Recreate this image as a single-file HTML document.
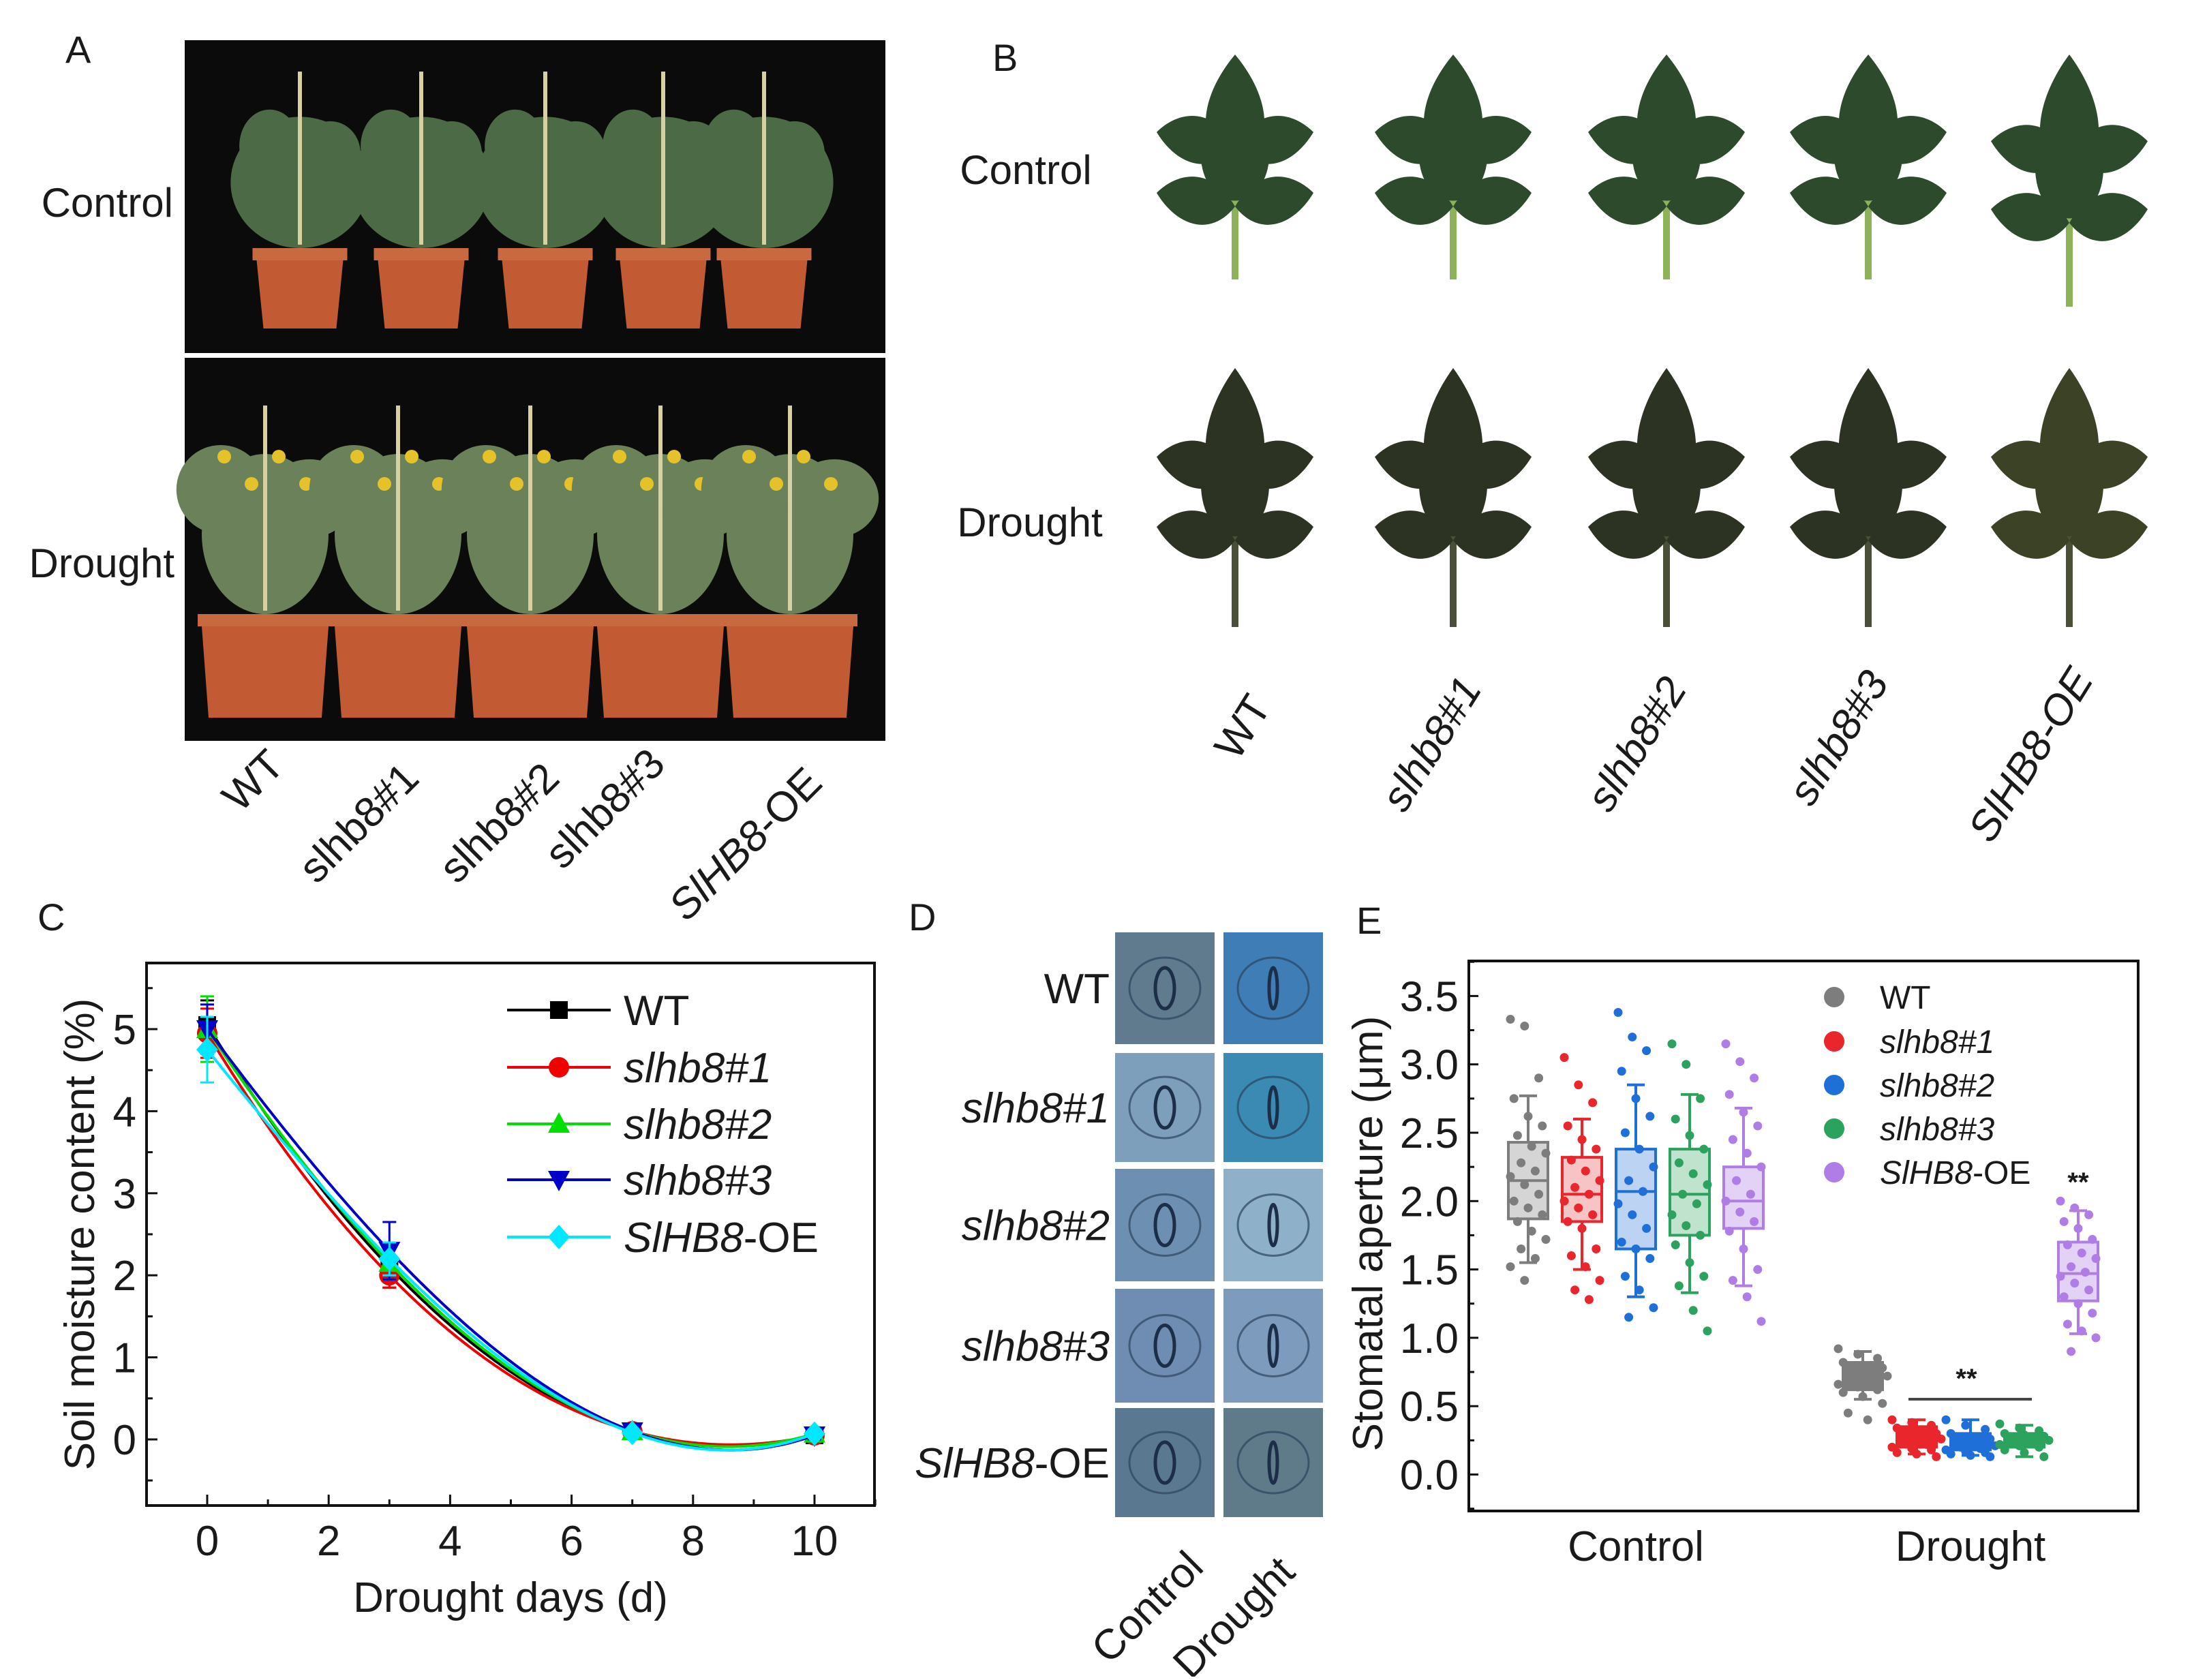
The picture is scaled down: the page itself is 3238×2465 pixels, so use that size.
<!DOCTYPE html>
<html><head><meta charset="utf-8"><style>
html,body{margin:0;padding:0;background:#fff;}
body{width:3238px;height:2460px;overflow:hidden;font-family:"Liberation Sans",sans-serif;}
svg text{font-family:"Liberation Sans",sans-serif;}
</style></head><body>
<svg id="fig" width="3238" height="2460" viewBox="0 0 3238 2460" xmlns="http://www.w3.org/2000/svg">
<g id="panelA"></g>
<g id="panelB"></g>
<g id="panelC"></g>
<g id="panelD"></g>
<g id="panelE"></g>
</svg>
<script>
// ---------- Panel C data ----------
const cDays = [0, 3, 7, 10];
const cSeriesNames = ["WT", "slhb8#1", "slhb8#2", "slhb8#3", "SlHB8-OE"];
const cWT = [5.05, 2.10, 0.10, 0.05];
const cL1 = [4.95, 2.00, 0.10, 0.05];
const cL2 = [5.00, 2.15, 0.10, 0.07];
const cL3 = [5.00, 2.30, 0.10, 0.05];
const cOE = [4.75, 2.20, 0.08, 0.07];
const cErrWT = [0.30, 0.25, 0.05, 0.05];
const cErrL1 = [0.30, 0.15, 0.05, 0.05];
const cErrL2 = [0.40, 0.20, 0.05, 0.05];
const cErrL3 = [0.30, 0.35, 0.05, 0.05];
const cErrOE = [0.40, 0.20, 0.05, 0.05];
const cXTicks = [0, 2, 4, 6, 8, 10];
const cYTicks = [0, 1, 2, 3, 4, 5];

// ---------- Panel E data ----------
const eGroups = ["Control", "Drought"];
const eGenotypes = ["WT", "slhb8#1", "slhb8#2", "slhb8#3", "SlHB8-OE"];
const eCtrlStats = [[1.55,1.87,2.15,2.43,2.77],[1.50,1.85,2.05,2.32,2.60],[1.30,1.65,2.07,2.38,2.85],[1.33,1.75,2.05,2.38,2.78],[1.38,1.80,2.00,2.25,2.68]];
const eDrStats = [[0.55,0.62,0.72,0.82,0.90],[0.15,0.20,0.27,0.35,0.40],[0.14,0.18,0.22,0.30,0.40],[0.13,0.20,0.25,0.30,0.36],[1.03,1.27,1.47,1.70,1.93]];
const eCtrlPts = [
 [3.33,3.28,2.90,2.75,2.62,2.55,2.48,2.40,2.35,2.28,2.22,2.18,2.12,2.05,2.00,1.95,1.90,1.85,1.78,1.72,1.65,1.58,1.52,1.42],
 [3.05,2.85,2.72,2.55,2.45,2.38,2.30,2.22,2.15,2.10,2.05,2.00,1.95,1.90,1.85,1.80,1.65,1.60,1.52,1.42,1.35,1.28],
 [3.38,3.20,3.10,2.95,2.75,2.62,2.50,2.38,2.25,2.15,2.07,1.98,1.90,1.80,1.70,1.65,1.58,1.45,1.35,1.22,1.15],
 [3.15,3.00,2.75,2.60,2.48,2.38,2.28,2.20,2.12,2.05,1.98,1.90,1.82,1.75,1.68,1.55,1.45,1.38,1.20,1.05],
 [3.15,3.02,2.90,2.78,2.65,2.55,2.45,2.35,2.25,2.15,2.05,2.00,1.92,1.85,1.78,1.65,1.50,1.42,1.30,1.12]
];
const eDrPts = [
 [0.92,0.88,0.85,0.82,0.80,0.78,0.76,0.74,0.72,0.70,0.68,0.66,0.64,0.62,0.60,0.57,0.52,0.45,0.40],
 [0.40,0.38,0.36,0.34,0.32,0.30,0.28,0.27,0.26,0.24,0.22,0.20,0.19,0.18,0.16,0.15,0.13],
 [0.40,0.36,0.33,0.30,0.28,0.26,0.24,0.22,0.21,0.20,0.19,0.18,0.17,0.16,0.15,0.14,0.13],
 [0.37,0.34,0.32,0.30,0.29,0.28,0.27,0.26,0.25,0.24,0.23,0.22,0.21,0.20,0.18,0.16,0.13],
 [2.00,1.95,1.90,1.85,1.80,1.72,1.68,1.62,1.58,1.52,1.48,1.45,1.40,1.35,1.30,1.25,1.18,1.10,1.05,1.00,0.90]
];
const eYTicks = [0.0,0.5,1.0,1.5,2.0,2.5,3.0,3.5];

const NS = "http://www.w3.org/2000/svg";
function mk(parent, tag, attrs, text){
  const el = document.createElementNS(NS, tag);
  for (const k in attrs) el.setAttribute(k, attrs[k]);
  if (text !== undefined) el.textContent = text;
  parent.appendChild(el);
  return el;
}
function label(parent, x, y, txt, size, name, extra){
  const t = mk(parent, "text", Object.assign({x:x, y:y, "font-size":size, fill:"#1a1a1a"}, extra||{}), txt);
  
  
  return t;
}
function geneLabel(parent, x, y, name, size, anchor, transform, dataName, allItalic, upright){
  const t = mk(parent, "text", {x:x, y:y, "font-size":size, fill:"#1a1a1a", "text-anchor":anchor});
  if (transform) t.setAttribute("transform", transform);
  
  
  if (name === "WT") { t.textContent = "WT"; }
  else if (name === "SlHB8-OE" && !allItalic) {
    mk(t, "tspan", {"font-style":"italic"}, "SlHB8");
    mk(t, "tspan", {}, "-OE");
  } else { if(!upright) t.setAttribute("font-style","italic"); t.textContent = name; }
  return t;
}

// ================= Panel A =================
(function(){
  const g = document.getElementById("panelA");
  label(g, 96, 92, "A", 56, "panel-a-letter");
  const photos = [
    {y:59, h:459, name:"control-plants-photo", potY:364, potH:118, potW:127, potX:[440,618,800,973,1121], fol:"#4d6a47", folTop:150, flowers:false, fw:0.8},
    {y:525, h:562, name:"drought-plants-photo", potY:901, potH:152, potW:186, potX:[389,584,778,969,1159], fol:"#6a8159", folTop:640, flowers:true, fw:0.5}
  ];
  photos.forEach(p=>{
    const pg = mk(g, "g", {});
    
    
    mk(pg, "rect", {x:271, y:p.y, width:1028, height:p.h, fill:"#0b0b0b"});
    p.potX.forEach((cx,i)=>{
      const hh = p.potY-p.folTop;
      mk(pg, "ellipse", {cx:cx, cy:p.folTop+hh*0.55, rx:p.potW*p.fw, ry:hh*0.45, fill:p.fol});
      mk(pg, "ellipse", {cx:cx-p.potW*0.35, cy:p.folTop+hh*0.3, rx:p.potW*0.35, ry:hh*0.25, fill:p.fol});
      mk(pg, "ellipse", {cx:cx+p.potW*0.35, cy:p.folTop+hh*0.35, rx:p.potW*0.35, ry:hh*0.22, fill:p.fol});
      mk(pg, "rect", {x:cx-3, y:p.folTop-45, width:6, height:hh+40, fill:"#d8d0a0"});
      if (p.flowers){
        for (let k=0;k<4;k++) mk(pg,"circle",{cx:cx-60+k*40, cy:p.folTop+30+(k%2)*40, r:10, fill:"#e6c22a"});
      }
      const w = p.potW, x0 = cx - w/2;
      mk(pg, "rect", {x:x0-6, y:p.potY, width:w+12, height:18, fill:"#c9693f"});
      mk(pg, "path", {d:`M${x0} ${p.potY+18} L${x0+w} ${p.potY+18} L${x0+w-10} ${p.potY+p.potH} L${x0+10} ${p.potY+p.potH} Z`, fill:"#c25a33"});
    });
  });
  label(g, 254, 318, "Control", 60, "control-row-label", {"text-anchor":"end"});
  label(g, 256, 847, "Drought", 60, "drought-row-label", {"text-anchor":"end"});
  const names = ["WT","slhb8#1","slhb8#2","slhb8#3","SlHB8-OE"];
  const cx = [372,527,733,888,1094], cy=[1146,1208,1208,1187,1239];
  names.forEach((n,i)=>{
    geneLabel(g, cx[i], cy[i]+20, n, 62, "middle", `rotate(-45 ${cx[i]} ${cy[i]})`, "genotype-label-a-"+i, false, true);
  });
})();

// ================= Panel B =================
(function(){
  const g = document.getElementById("panelB");
  label(g, 1456, 104, "B", 56, "panel-b-letter");
  label(g, 1505, 270, "Control", 60, "control-row-label-b", {"text-anchor":"middle"});
  label(g, 1511, 787, "Drought", 60, "drought-row-label-b", {"text-anchor":"middle"});
  const lx = [1812,2132,2445,2741,3036];
  function leaf(cx, top, bot, col, stem, nm){
    const lg = mk(g, "g", {});
    
    
    const h = bot-top;
    mk(lg, "line", {x1:cx, y1:top+h*0.3, x2:cx, y2:bot, stroke:stem, "stroke-width":10});
    mk(lg, "path", {d:`M${cx} ${top} C${cx+55} ${top+h*0.2} ${cx+60} ${top+h*0.42} ${cx} ${top+h*0.52} C${cx-60} ${top+h*0.42} ${cx-55} ${top+h*0.2} ${cx} ${top}Z`, fill:col});
    [[0.33,1],[0.33,-1],[0.6,1],[0.6,-1]].forEach(([f,s])=>{
      const y = top+h*f;
      mk(lg, "path", {d:`M${cx} ${y+25} C${cx+s*35} ${y-35} ${cx+s*85} ${y-25} ${cx+s*115} ${y+5} C${cx+s*85} ${y+55} ${cx+s*35} ${y+70} ${cx} ${y+25}Z`, fill:col});
    });
    mk(lg, "ellipse", {cx:cx, cy:top+h*0.45, rx:50, ry:h*0.2, fill:col});
  }
  lx.forEach((x,i)=>{ leaf(x, 80, 410+(i===4?40:0), "#2e4a2c", "#8db25a", "control-leaf-"+i); });
  lx.forEach((x,i)=>{ leaf(x, 540, 920, i===4?"#3b4226":"#2c3322", "#4a5038", "drought-leaf-"+i); });
  const names = ["WT","slhb8#1","slhb8#2","slhb8#3","SlHB8-OE"];
  const cx=[1824,2101,2402,2698,2980], cy=[1067,1092,1092,1083,1108];
  names.forEach((n,i)=>{
    geneLabel(g, cx[i], cy[i]+20, n, 62, "middle", `rotate(-58 ${cx[i]} ${cy[i]})`, "genotype-label-b-"+i, true);
  });
})();

// ================= Panel C =================
(function(){
  const g = document.getElementById("panelC");
  label(g, 55, 1365, "C", 56, "panel-c-letter");
  const L=215, R=1283, T=1413, B=2209;
  const xs = d => 304 + d*89.1;
  const ys = v => 2112 - v*120.4;
  const fr = mk(g, "rect", {x:L, y:T, width:R-L, height:B-T, fill:"none", stroke:"#111", "stroke-width":4});
   
  for (let d=-1; d<=11; d++){
    const major = cXTicks.includes(d);
    mk(g, "line", {x1:xs(d), y1:B, x2:xs(d), y2:B-(major?16:9), stroke:"#111", "stroke-width":3});
  }
  cXTicks.forEach(d=>{ label(g, xs(d), 2282, String(d), 62, "x-tick-label-"+d, {"text-anchor":"middle"}); });
  for (let v=-0.5; v<=5.5; v+=0.5){
    const major = cYTicks.includes(v);
    mk(g, "line", {x1:L, y1:ys(v), x2:L+(major?16:9), y2:ys(v), stroke:"#111", "stroke-width":3});
  }
  cYTicks.forEach(v=>{ label(g, 200, ys(v)+22, String(v), 62, "y-tick-label-"+v, {"text-anchor":"end"}); });
  label(g, 749, 2365, "Drought days (d)", 62, "x-axis-title", {"text-anchor":"middle"});
  label(g, 138, 1811, "Soil moisture content (%)", 62, "y-axis-title", {"text-anchor":"middle", transform:"rotate(-90 138 1811)"});

  const series = [cWT, cL1, cL2, cL3, cOE];
  const errs = [cErrWT, cErrL1, cErrL2, cErrL3, cErrOE];
  const colors = ["#000000","#f00000","#00e000","#0000c8","#00e8ff"];
  const markers = ["square","circle","tri","tridown","diamond"];
  function lagrange(xv, yv, x){
    let s=0;
    for (let i=0;i<xv.length;i++){ let p=yv[i]; for (let j=0;j<xv.length;j++) if(j!==i) p*= (x-xv[j])/(xv[i]-xv[j]); s+=p; }
    return s;
  }
  function marker(parent, type, x, y, col, r){
    let el;
    if (type==="square") el = mk(parent,"rect",{x:x-r,y:y-r,width:2*r,height:2*r,fill:col});
    else if (type==="circle") el = mk(parent,"circle",{cx:x,cy:y,r:r+2,fill:col});
    else if (type==="tri") el = mk(parent,"path",{d:`M${x} ${y-r-4} L${x+r+3} ${y+r} L${x-r-3} ${y+r}Z`,fill:col});
    else if (type==="tridown") el = mk(parent,"path",{d:`M${x} ${y+r+4} L${x+r+3} ${y-r} L${x-r-3} ${y-r}Z`,fill:col});
    else el = mk(parent,"path",{d:`M${x} ${y-r-5} L${x+r+3} ${y} L${x} ${y+r+5} L${x-r-3} ${y}Z`,fill:col});
    return el;
  }
  series.forEach((s,si)=>{
    const sg = mk(g, "g", {});
    
    
    let d="";
    for (let k=0;k<=200;k++){
      const x = cDays[0] + (cDays[cDays.length-1]-cDays[0])*k/200;
      d += (k?"L":"M") + xs(x).toFixed(1) + " " + ys(lagrange(cDays, s, x)).toFixed(1) + " ";
    }
    const line = mk(sg, "path", {d:d, fill:"none", stroke:colors[si], "stroke-width":4});
    
    
    s.forEach((v,i)=>{
      const x = xs(cDays[i]);
      const eb = mk(sg, "path", {d:`M${x} ${ys(v-errs[si][i])} L${x} ${ys(v+errs[si][i])} M${x-10} ${ys(v-errs[si][i])} L${x+10} ${ys(v-errs[si][i])} M${x-10} ${ys(v+errs[si][i])} L${x+10} ${ys(v+errs[si][i])}`, stroke:colors[si], "stroke-width":3, fill:"none"});
      
      
      const m = marker(sg, markers[si], x, ys(v), colors[si], 13);
      
      
    });
  });
  const legY = [1482,1566,1649,1731,1815];
  cSeriesNames.forEach((n,i)=>{
    const lg = mk(g, "g", {});
    
    
    mk(lg, "line", {x1:744, y1:legY[i], x2:896, y2:legY[i], stroke:colors[i], "stroke-width":4});
    marker(lg, markers[i], 820, legY[i], colors[i], 13);
    geneLabel(lg, 915, legY[i]+22, n, 62, "start", null, "legend-label-"+i, false);
  });
})();

// ================= Panel D =================
(function(){
  const g = document.getElementById("panelD");
  label(g, 1333, 1365, "D", 56, "panel-d-letter");
  const rows = [[1368,1532],[1545,1705],[1715,1880],[1891,2058],[2066,2226]];
  const cols = [[1636,1782],[1795,1941]];
  const fills = [["#607b8e","#3f7db6"],["#7e9fbb","#3a8ab4"],["#6d90b2","#8eb0c9"],["#6f8db2","#7c9bbd"],["#5b7891","#5f7b8a"]];
  const names = ["WT","slhb8#1","slhb8#2","slhb8#3","SlHB8-OE"];
  rows.forEach((r,ri)=>{
    cols.forEach((c,ci)=>{
      const cg = mk(g, "g", {});
      
      
      mk(cg, "rect", {x:c[0], y:r[0], width:c[1]-c[0], height:r[1]-r[0], fill:fills[ri][ci]});
      const cx=(c[0]+c[1])/2, cy=(r[0]+r[1])/2;
      mk(cg, "ellipse", {cx:cx, cy:cy, rx:52, ry:45, fill:"none", stroke:"#2c4560", "stroke-width":3, opacity:0.7});
      mk(cg, "ellipse", {cx:cx, cy:cy, rx:ci?6:14, ry:30, fill:"none", stroke:"#1d2e48", "stroke-width":5});
    });
    geneLabel(g, 1628, (rows[ri][0]+rows[ri][1])/2+22, names[ri], 62, "end", null, "genotype-label-d-"+ri, false);
  });
  label(g, 1681, 2380, "Control", 62, "control-column-label", {"text-anchor":"middle", transform:"rotate(-45 1681 2356)"});
  label(g, 1808, 2395, "Drought", 62, "drought-column-label", {"text-anchor":"middle", transform:"rotate(-45 1808 2371)"});
})();

// ================= Panel E =================
(function(){
  const g = document.getElementById("panelE");
  label(g, 1990, 1370, "E", 56, "panel-e-letter");
  const L=2155, R=3137, T=1410, B=2217;
  const ys = v => 2163.5 - v*200.6;
  const groupX = [2400, 2891];
  const step = 79;
  const xs = (gi, k) => groupX[gi] + (k-2)*step;
  const fr = mk(g, "rect", {x:L, y:T, width:R-L, height:B-T, fill:"none", stroke:"#111", "stroke-width":4});
   
  for (let v=-0.25; v<=3.75; v+=0.25){
    const major = Math.abs(v*2-Math.round(v*2))<1e-6;
    mk(g, "line", {x1:L, y1:ys(v), x2:L+(major?14:8), y2:ys(v), stroke:"#111", "stroke-width":3});
  }
  eYTicks.forEach(v=>{ label(g, 2140, ys(v)+22, v.toFixed(1), 62, "y-tick-label-e-"+v, {"text-anchor":"end"}); });
  eGroups.forEach((n,i)=>{ label(g, groupX[i], 2290, n, 62, "x-category-"+n.toLowerCase(), {"text-anchor":"middle"}); });
  label(g, 2028, 1810, "Stomatal aperture (μm)", 62, "y-axis-title-e", {"text-anchor":"middle", transform:"rotate(-90 2028 1810)"});
  const cols = ["#7d7d7d","#e8262b","#1f6fd8","#2ca25f","#b07de6"];
  const fillsL = ["#d5d5d5","#f6c4c4","#bcd3f3","#bfe3cc","#e3d1f6"];
  function drawGroup(gi, stats, pts){
    stats.forEach((st,k)=>{
      const bg = mk(g, "g", {});
      
      
      const x = xs(gi,k), w = 58;
      const dense = gi===1 && k<4;
      mk(bg, "line", {x1:x, y1:ys(st[0]), x2:x, y2:ys(st[4]), stroke:cols[k], "stroke-width":4});
      mk(bg, "line", {x1:x-13, y1:ys(st[0]), x2:x+13, y2:ys(st[0]), stroke:cols[k], "stroke-width":4});
      mk(bg, "line", {x1:x-13, y1:ys(st[4]), x2:x+13, y2:ys(st[4]), stroke:cols[k], "stroke-width":4});
      mk(bg, "rect", {x:x-w/2, y:ys(st[3]), width:w, height:ys(st[1])-ys(st[3]), fill:dense?cols[k]:fillsL[k], stroke:cols[k], "stroke-width":4});
      mk(bg, "line", {x1:x-w/2, y1:ys(st[2]), x2:x+w/2, y2:ys(st[2]), stroke:cols[k], "stroke-width":4});
      pts[k].forEach((v,i)=>{
        const off = (((i*37)%11)-5)/5*(dense?36:26);
        const c = mk(bg, "circle", {cx:x+off, cy:ys(v), r:6.5, fill:cols[k]});
        
        
      });
    });
  }
  drawGroup(0, eCtrlStats, eCtrlPts);
  drawGroup(1, eDrStats, eDrPts);
  const sig = mk(g, "line", {x1:2800, y1:2053, x2:2981, y2:2053, stroke:"#444", "stroke-width":4});
   
  label(g, 2885, 2036, "**", 40, "significance-mark", {"text-anchor":"middle", "font-weight":"bold"});
  label(g, 3049, 1748, "**", 40, "significance-mark-oe", {"text-anchor":"middle", "font-weight":"bold"});
  const legY = [1463,1528,1592,1656,1720];
  eGenotypes.forEach((n,i)=>{
    const lg = mk(g, "g", {});
    
    
    mk(lg, "circle", {cx:2691, cy:legY[i], r:15, fill:cols[i]});
    geneLabel(lg, 2758, legY[i]+17, n, 48, "start", null, "legend-label-e-"+i, false);
  });
})();
</script>
</body></html>
